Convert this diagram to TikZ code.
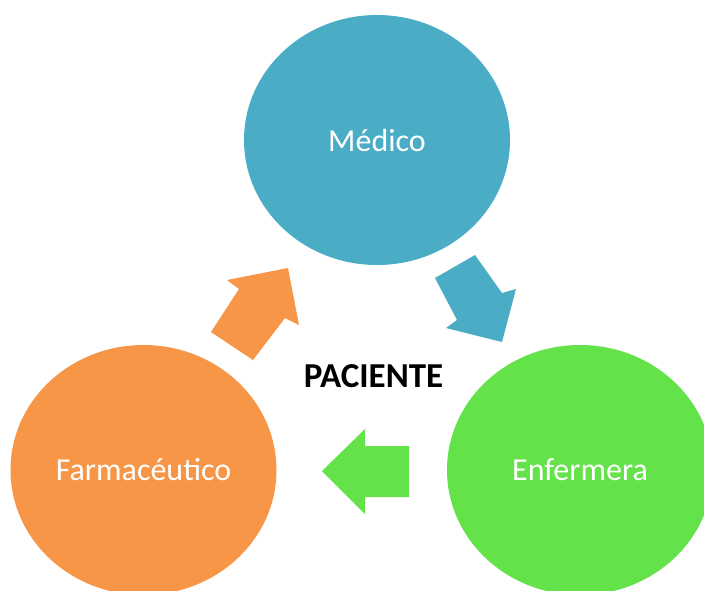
\documentclass[tikz,border=0pt]{standalone}
\usepackage{fontspec}
\setmainfont{Carlito}
\usetikzlibrary{shapes.geometric}
\definecolor{cblue}{RGB}{75,172,198}
\definecolor{corange}{RGB}{247,150,70}
\definecolor{cgreen}{RGB}{99,226,74}
\tikzset{
  role/.style={ellipse, minimum width=266pt, minimum height=250pt, inner sep=0pt,
    text=white, font=\fontsize{32}{38}\selectfont},
  blockarrow/.style={draw=none}
}
\begin{document}
\begin{tikzpicture}[x=1pt,y=-1pt]
\useasboundingbox (0,0) rectangle (704,590);
\clip (0,0) rectangle (704,590);
\node[role, fill=cblue] (med) at (377,140) {Médico};
\node[role, fill=corange] (farm) at (143.5,470) {Farmacéutico};
\node[role, fill=cgreen] (enf) at (580,470) {Enfermera};
\node[font=\bfseries\fontsize{35}{42}\selectfont] (pac) at (373.5,376) {PACIENTE};
% blue arrow
\fill[cblue, blockarrow] (435,278) -- (475,255) -- (502,293) -- (516,289) -- (502,342) -- (446,328) -- (457,320) -- cycle;
% orange arrow
\fill[corange, blockarrow] (253,360) -- (211,332) -- (239,289) -- (227,280) -- (288,268) -- (299,325) -- (285,318) -- cycle;
% green arrow
\fill[cgreen, blockarrow] (322,471) -- (365,429) -- (365,446) -- (409,446) -- (409,497) -- (365,497) -- (365,514) -- cycle;
\end{tikzpicture}
\end{document}
